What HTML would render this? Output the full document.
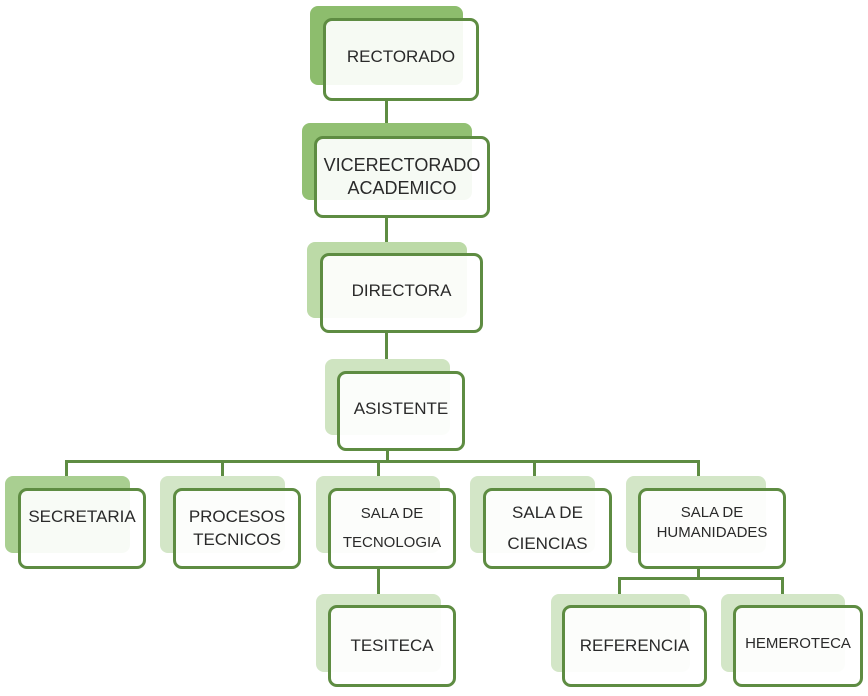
<!DOCTYPE html>
<html><head><meta charset="utf-8"><style>
html,body{margin:0;padding:0;background:#fff;}
body{width:868px;height:696px;position:relative;overflow:hidden;font-family:"Liberation Sans",sans-serif;}
.b{position:absolute;border-radius:8px;}
.f{position:absolute;border:3px solid #5e8c42;border-radius:9px;background:rgba(255,255,255,0.92);box-sizing:border-box;color:#2a2a2a;text-align:center;display:flex;align-items:center;justify-content:center;font-size:17px;line-height:1.3;}
.l{position:absolute;background:#5e8c42;}
</style></head><body>
<!-- connectors -->
<div class="l" style="left:385px;top:100px;width:3px;height:36px"></div>
<div class="l" style="left:385px;top:217px;width:3px;height:36px"></div>
<div class="l" style="left:385px;top:333px;width:3px;height:38px"></div>
<div class="l" style="left:386px;top:451px;width:3px;height:11px"></div>
<div class="l" style="left:65px;top:460px;width:635px;height:3px"></div>
<div class="l" style="left:65px;top:460px;width:3px;height:16px"></div>
<div class="l" style="left:221px;top:460px;width:3px;height:16px"></div>
<div class="l" style="left:377px;top:460px;width:3px;height:16px"></div>
<div class="l" style="left:533px;top:460px;width:3px;height:16px"></div>
<div class="l" style="left:697px;top:460px;width:3px;height:16px"></div>
<div class="l" style="left:377px;top:568px;width:3px;height:30px"></div>
<div class="l" style="left:697px;top:568px;width:3px;height:11px"></div>
<div class="l" style="left:618px;top:577px;width:166px;height:3px"></div>
<div class="l" style="left:618px;top:577px;width:3px;height:18px"></div>
<div class="l" style="left:781px;top:577px;width:3px;height:18px"></div>

<!-- backs -->
<div class="b" style="left:310px;top:6px;width:153px;height:79px;background:#8dbd6d"></div>
<div class="b" style="left:302px;top:123px;width:170px;height:77px;background:#92c073"></div>
<div class="b" style="left:307px;top:242px;width:160px;height:76px;background:#bcdaa7"></div>
<div class="b" style="left:325px;top:359px;width:125px;height:76px;background:#cfe4c1"></div>
<div class="b" style="left:5px;top:476px;width:125px;height:77px;background:#a9cf91"></div>
<div class="b" style="left:160px;top:476px;width:125px;height:77px;background:#d3e6c7"></div>
<div class="b" style="left:316px;top:476px;width:124px;height:77px;background:#d3e6c7"></div>
<div class="b" style="left:470px;top:476px;width:125px;height:77px;background:#d3e6c7"></div>
<div class="b" style="left:626px;top:476px;width:140px;height:77px;background:#d3e6c7"></div>
<div class="b" style="left:316px;top:594px;width:125px;height:78px;background:#d3e6c7"></div>
<div class="b" style="left:551px;top:594px;width:139px;height:78px;background:#d3e6c7"></div>
<div class="b" style="left:721px;top:594px;width:124px;height:78px;background:#d3e6c7"></div>

<!-- fronts -->
<div class="f" style="left:323px;top:18px;width:156px;height:83px;padding-bottom:4px">RECTORADO</div>
<div class="f" style="left:314px;top:136px;width:176px;height:82px;font-size:18px">VICERECTORADO<br>ACADEMICO</div>
<div class="f" style="left:320px;top:253px;width:163px;height:80px;padding-bottom:4px">DIRECTORA</div>
<div class="f" style="left:337px;top:371px;width:128px;height:80px;padding-bottom:4px">ASISTENTE</div>
<div class="f" style="left:18px;top:488px;width:128px;height:81px;align-items:flex-start;padding-top:15px">SECRETARIA</div>
<div class="f" style="left:173px;top:488px;width:128px;height:81px">PROCESOS<br>TECNICOS</div>
<div class="f" style="left:328px;top:488px;width:128px;height:81px;font-size:15px;line-height:1.9">SALA DE<br>TECNOLOGIA</div>
<div class="f" style="left:483px;top:488px;width:129px;height:81px;line-height:1.8">SALA DE<br>CIENCIAS</div>
<div class="f" style="left:638px;top:488px;width:148px;height:81px;font-size:15px;padding-bottom:12px">SALA DE<br>HUMANIDADES</div>
<div class="f" style="left:328px;top:605px;width:128px;height:82px">TESITECA</div>
<div class="f" style="left:562px;top:605px;width:145px;height:82px">REFERENCIA</div>
<div class="f" style="left:733px;top:605px;width:130px;height:82px;font-size:15px;padding-bottom:4px">HEMEROTECA</div>
</body></html>
